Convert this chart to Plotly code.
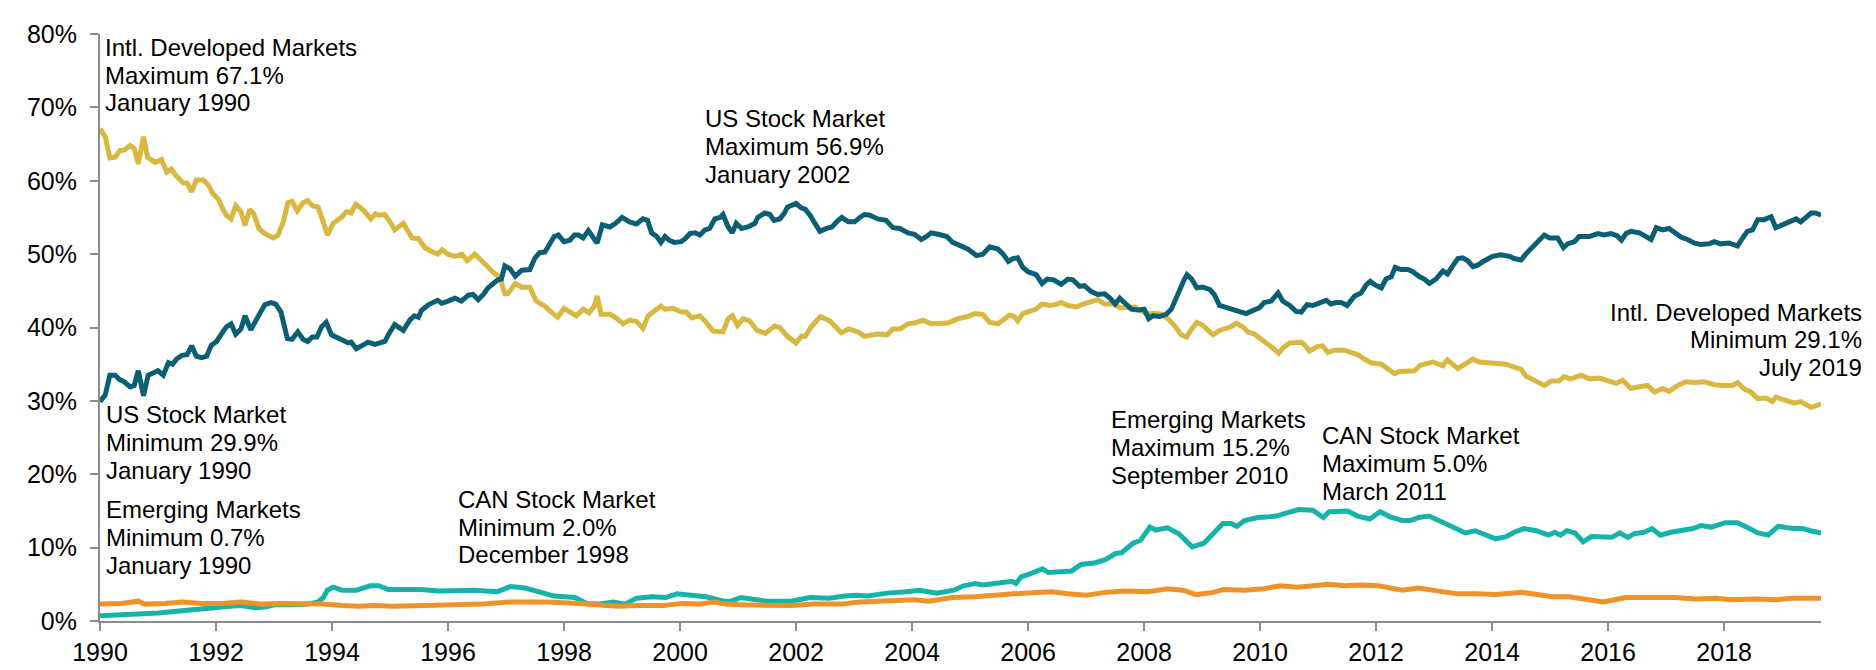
import plotly.graph_objects as go

# ---------------- data ----------------
us_x = [1990.00,1990.09,1990.17,1990.26,1990.34,1990.42,1990.52,1990.59,1990.66,1990.75,1990.83,1990.95,1991.00,1991.09,1991.18,1991.25,1991.32,1991.41,1991.50,1991.58,1991.66,1991.75,1991.84,1991.92,1992.01,1992.10,1992.18,1992.26,1992.34,1992.43,1992.50,1992.60,1992.67,1992.76,1992.84,1992.95,1993.03,1993.12,1993.23,1993.31,1993.41,1993.50,1993.58,1993.66,1993.74,1993.82,1993.90,1993.99,1994.13,1994.19,1994.28,1994.33,1994.42,1994.51,1994.62,1994.74,1994.82,1994.91,1995.00,1995.08,1995.23,1995.34,1995.42,1995.49,1995.54,1995.66,1995.82,1995.89,1996.00,1996.12,1996.23,1996.35,1996.43,1996.52,1996.61,1996.69,1996.78,1996.86,1996.92,1996.98,1997.07,1997.16,1997.27,1997.41,1997.50,1997.58,1997.67,1997.74,1997.83,1997.90,1998.00,1998.10,1998.18,1998.25,1998.33,1998.42,1998.50,1998.57,1998.66,1998.79,1998.89,1999.00,1999.13,1999.25,1999.36,1999.44,1999.51,1999.60,1999.67,1999.74,1999.81,1999.90,2000.02,2000.09,2000.17,2000.26,2000.34,2000.43,2000.51,2000.60,2000.69,2000.74,2000.83,2000.90,2000.97,2001.06,2001.17,2001.29,2001.34,2001.46,2001.55,2001.62,2001.72,2001.80,2001.85,2001.94,2002.00,2002.09,2002.16,2002.24,2002.32,2002.41,2002.53,2002.62,2002.70,2002.79,2002.90,2003.01,2003.10,2003.18,2003.27,2003.41,2003.55,2003.67,2003.79,2003.93,2004.04,2004.16,2004.25,2004.33,2004.45,2004.60,2004.70,2004.85,2004.96,2005.11,2005.22,2005.34,2005.48,2005.57,2005.66,2005.74,2005.82,2005.91,2006.00,2006.14,2006.24,2006.33,2006.44,2006.57,2006.69,2006.77,2006.89,2006.97,2007.09,2007.20,2007.32,2007.41,2007.50,2007.58,2007.66,2007.78,2007.89,2008.00,2008.08,2008.15,2008.27,2008.38,2008.47,2008.58,2008.69,2008.74,2008.82,2008.91,2009.01,2009.13,2009.21,2009.30,2009.39,2009.50,2009.62,2009.76,2009.87,2009.99,2010.07,2010.19,2010.31,2010.39,2010.51,2010.62,2010.71,2010.81,2010.91,2011.02,2011.14,2011.22,2011.31,2011.40,2011.50,2011.63,2011.74,2011.83,2011.90,2011.98,2012.09,2012.17,2012.26,2012.33,2012.43,2012.55,2012.63,2012.75,2012.83,2012.92,2013.03,2013.15,2013.23,2013.32,2013.41,2013.49,2013.58,2013.67,2013.75,2013.87,2014.01,2014.15,2014.30,2014.38,2014.50,2014.58,2014.70,2014.81,2014.90,2014.99,2015.13,2015.23,2015.30,2015.42,2015.50,2015.68,2015.82,2015.93,2016.05,2016.15,2016.23,2016.31,2016.39,2016.54,2016.65,2016.74,2016.83,2016.94,2017.05,2017.14,2017.26,2017.37,2017.49,2017.60,2017.74,2017.83,2017.94,2018.09,2018.23,2018.32,2018.40,2018.49,2018.58,2018.69,2018.81,2018.89,2019.01,2019.12,2019.24,2019.32,2019.41,2019.50,2019.58,2019.67]
us_y = [29.9,30.8,33.5,33.5,32.9,32.6,31.9,32.1,34.1,30.7,33.5,33.8,34.1,33.5,35.2,35.0,35.7,36.2,36.3,37.5,36.1,35.9,36.1,37.6,38.1,39.2,40.1,40.5,39.1,39.8,41.6,39.7,40.7,42.3,43.1,43.4,43.2,42.1,38.5,38.4,39.4,38.4,38.1,38.7,38.7,40.1,40.7,39.0,38.5,38.1,37.9,38.0,37.1,37.5,38.0,37.7,37.9,38.1,39.4,40.4,39.6,41.0,41.6,41.4,42.3,43.1,43.7,43.3,43.6,44.0,43.6,44.4,44.5,43.8,44.5,45.4,46.0,46.5,46.6,48.4,48.0,47.0,47.8,47.9,49.5,50.2,50.3,51.1,52.4,52.6,51.7,51.9,52.6,52.6,52.2,53.2,52.4,51.5,54.0,53.7,54.2,55.0,54.4,54.1,54.8,54.6,52.9,52.4,51.6,52.4,51.9,51.6,51.7,52.1,52.8,52.9,52.6,53.3,53.5,54.8,55.0,55.4,53.7,52.9,54.2,53.5,53.7,54.2,55.0,55.6,55.4,54.6,54.8,55.6,56.4,56.6,56.9,56.3,56.1,55.3,54.4,53.1,53.5,53.7,54.4,55.0,54.4,54.4,55.0,55.4,55.3,54.8,54.6,53.6,53.5,52.9,52.7,52.0,52.4,52.9,52.7,52.4,51.6,51.0,50.7,49.8,50.0,51.0,50.7,50.0,49.0,49.4,49.5,48.2,47.6,47.2,46.0,46.6,46.5,45.9,46.6,46.5,45.6,45.7,44.9,44.5,44.6,44.0,43.2,44.0,43.4,42.5,42.4,42.5,41.2,41.6,41.5,41.8,42.5,44.7,46.5,47.2,46.6,45.4,45.5,45.2,44.5,43.0,42.8,42.4,42.3,41.9,42.3,42.7,43.4,43.6,44.7,43.6,43.0,42.2,42.1,43.1,43.0,43.4,43.7,43.2,43.4,43.4,43.0,44.3,44.7,45.8,46.3,45.8,45.4,46.6,46.9,48.2,47.9,47.9,47.6,46.9,46.6,46.0,46.6,47.7,47.3,48.4,49.4,49.5,49.1,48.3,48.5,49.1,49.7,49.9,49.7,49.4,49.2,50.0,51.0,52.0,52.6,52.2,52.2,50.9,51.4,51.7,52.4,52.4,52.8,52.6,52.8,52.5,51.9,52.8,53.1,52.9,52.5,52.0,53.6,53.3,53.5,52.9,52.3,52.0,51.5,51.3,51.4,51.7,51.4,51.5,51.1,52.2,53.1,53.3,54.7,54.7,55.1,53.6,54.0,54.4,54.8,54.4,55.0,55.6,55.6,55.3]

intl_x = [1990.00,1990.09,1990.17,1990.26,1990.34,1990.42,1990.52,1990.59,1990.66,1990.75,1990.82,1990.95,1991.06,1991.15,1991.23,1991.32,1991.44,1991.50,1991.58,1991.66,1991.78,1991.87,1991.95,1992.04,1992.12,1992.18,1992.26,1992.34,1992.43,1992.50,1992.58,1992.65,1992.74,1992.84,1992.99,1993.07,1993.16,1993.24,1993.31,1993.40,1993.50,1993.58,1993.66,1993.76,1993.84,1993.92,1994.02,1994.16,1994.25,1994.33,1994.41,1994.54,1994.67,1994.75,1994.80,1994.91,1995.00,1995.08,1995.23,1995.38,1995.49,1995.60,1995.71,1995.82,1995.90,1996.00,1996.12,1996.24,1996.33,1996.46,1996.58,1996.69,1996.81,1996.89,1996.98,1997.03,1997.16,1997.27,1997.41,1997.52,1997.67,1997.78,1997.89,1998.00,1998.10,1998.21,1998.33,1998.43,1998.52,1998.57,1998.64,1998.79,1998.90,1999.02,1999.13,1999.25,1999.36,1999.45,1999.55,1999.67,1999.74,1999.88,2000.02,2000.11,2000.20,2000.34,2000.43,2000.57,2000.74,2000.83,2000.90,2000.99,2001.09,2001.20,2001.33,2001.47,2001.63,2001.72,2001.85,2002.00,2002.09,2002.16,2002.26,2002.42,2002.58,2002.78,2002.91,2003.07,2003.18,2003.41,2003.57,2003.67,2003.79,2003.93,2004.04,2004.19,2004.33,2004.62,2004.79,2004.96,2005.08,2005.22,2005.34,2005.48,2005.60,2005.68,2005.76,2005.82,2005.91,2006.05,2006.14,2006.24,2006.37,2006.46,2006.57,2006.69,2006.83,2006.95,2007.12,2007.20,2007.32,2007.41,2007.49,2007.58,2007.72,2007.84,2007.95,2008.06,2008.18,2008.30,2008.41,2008.52,2008.64,2008.73,2008.81,2008.91,2009.01,2009.10,2009.19,2009.30,2009.42,2009.50,2009.59,2009.70,2009.79,2009.90,2010.02,2010.13,2010.22,2010.32,2010.39,2010.51,2010.71,2010.76,2010.85,2010.99,2011.08,2011.17,2011.28,2011.45,2011.57,2011.68,2011.80,2011.91,2012.09,2012.20,2012.32,2012.40,2012.52,2012.66,2012.77,2012.98,2013.15,2013.23,2013.41,2013.55,2013.67,2013.78,2013.92,2014.07,2014.24,2014.38,2014.50,2014.58,2014.73,2014.90,2015.02,2015.16,2015.24,2015.36,2015.53,2015.68,2015.85,2015.99,2016.14,2016.25,2016.39,2016.51,2016.68,2016.80,2016.94,2017.05,2017.20,2017.34,2017.49,2017.66,2017.83,2018.00,2018.15,2018.23,2018.35,2018.46,2018.58,2018.72,2018.83,2018.89,2019.04,2019.21,2019.32,2019.44,2019.50,2019.67]
intl_y = [67.1,66.0,63.1,63.2,64.1,64.2,64.8,64.4,62.3,66.0,63.2,62.5,62.9,61.2,61.6,60.6,59.7,59.7,58.5,60.1,60.1,59.4,58.2,57.5,56.1,55.3,54.8,56.6,55.8,53.9,56.1,55.5,53.5,52.8,52.2,52.6,54.4,57.0,57.2,55.9,57.0,57.3,56.6,56.4,54.6,52.6,54.2,55.0,55.8,55.6,56.8,56.0,54.8,55.5,55.3,55.4,54.4,53.3,54.2,52.2,52.1,50.9,50.4,50.0,50.6,50.0,49.7,50.0,49.1,50.0,49.1,48.2,47.3,46.9,44.6,44.6,46.0,45.5,45.5,43.6,42.9,42.1,41.4,42.6,42.2,41.6,42.5,42.0,42.9,44.3,41.8,41.8,41.3,40.5,41.0,40.8,39.9,41.6,42.2,42.9,42.5,42.6,42.1,42.1,41.3,41.6,40.9,39.5,39.4,41.2,41.6,40.3,41.2,40.9,39.6,39.2,40.2,40.0,38.8,37.9,38.8,38.8,40.1,41.5,40.9,39.3,39.8,39.4,38.8,39.1,39.0,39.8,39.8,40.5,40.6,41.0,40.5,40.6,41.2,41.5,41.9,41.8,40.7,40.5,41.2,41.7,41.5,40.9,41.9,42.2,42.5,43.2,43.0,43.1,43.4,43.0,42.8,43.2,43.7,43.8,43.2,43.2,43.2,42.7,42.8,42.8,42.2,41.9,41.9,41.8,41.2,40.3,39.0,38.7,39.7,40.7,40.3,39.7,39.0,39.6,39.9,40.1,40.6,40.1,39.4,39.1,38.4,37.8,37.2,36.5,37.2,37.9,38.0,37.7,36.8,37.4,37.5,36.6,36.9,36.9,36.6,36.3,35.7,35.2,35.0,34.4,33.7,34.0,34.0,34.1,34.9,35.3,34.8,35.6,34.4,35.0,35.7,35.3,35.2,35.2,35.0,34.6,34.3,33.4,32.7,32.1,32.7,32.7,33.3,33.0,33.5,33.0,33.1,32.8,32.4,32.8,31.7,31.9,32.1,31.2,31.7,31.3,32.1,32.6,32.5,32.6,32.2,32.1,32.1,32.5,31.6,31.2,30.3,30.4,29.9,30.5,30.2,29.7,29.9,29.3,29.1,29.6]

em_x = [1990.00,1990.43,1990.83,1991.01,1991.41,1991.81,1992.04,1992.24,1992.44,1992.67,1992.84,1993.01,1993.30,1993.59,1993.76,1993.85,1993.92,1994.02,1994.17,1994.42,1994.66,1994.80,1994.97,1995.31,1995.54,1995.83,1996.12,1996.46,1996.85,1997.08,1997.33,1997.60,1997.83,1998.19,1998.39,1998.59,1998.85,1999.05,1999.25,1999.52,1999.75,1999.95,2000.28,2000.45,2000.75,2000.88,2001.05,2001.25,2001.51,2001.71,2001.91,2002.24,2002.57,2002.84,2003.04,2003.23,2003.57,2003.90,2004.13,2004.43,2004.72,2004.89,2005.09,2005.22,2005.55,2005.72,2005.79,2005.88,2006.02,2006.15,2006.25,2006.35,2006.75,2006.91,2007.14,2007.34,2007.51,2007.61,2007.81,2007.94,2008.10,2008.20,2008.40,2008.60,2008.83,2009.03,2009.20,2009.36,2009.50,2009.60,2009.73,2009.96,2010.16,2010.28,2010.49,2010.67,2010.91,2011.09,2011.19,2011.51,2011.68,2011.89,2012.07,2012.24,2012.45,2012.59,2012.73,2012.91,2013.08,2013.29,2013.54,2013.71,2013.89,2014.06,2014.24,2014.38,2014.55,2014.76,2014.97,2015.08,2015.18,2015.29,2015.43,2015.57,2015.71,2015.88,2016.06,2016.20,2016.34,2016.45,2016.62,2016.76,2016.90,2017.08,2017.32,2017.46,2017.60,2017.78,2018.02,2018.23,2018.41,2018.58,2018.76,2018.93,2019.18,2019.35,2019.49,2019.67]
em_y = [0.7,0.8,0.9,1.1,1.4,1.7,2.0,2.0,2.1,1.8,1.9,2.2,2.2,2.3,2.6,3.2,4.2,4.6,4.2,4.2,4.8,4.8,4.3,4.4,4.3,4.1,4.2,4.2,4.0,4.7,4.5,4.0,3.4,3.2,2.4,2.3,2.6,2.3,3.1,3.3,3.2,3.7,3.4,3.3,2.7,2.7,3.2,3.0,2.7,2.7,2.7,3.2,3.1,3.4,3.5,3.4,3.8,4.0,4.2,3.8,4.2,4.8,5.1,4.9,5.2,5.4,5.1,6.0,6.4,6.7,7.1,6.6,6.8,7.7,7.9,8.4,9.2,9.3,10.6,11.0,12.8,12.4,12.7,11.9,10.1,10.6,11.9,13.3,13.3,12.9,13.7,14.1,14.2,14.3,14.8,15.2,15.1,14.1,14.9,15.0,14.3,13.9,14.9,14.2,13.7,13.7,14.1,14.3,13.7,13.0,12.0,12.3,11.8,11.2,11.5,12.1,12.6,12.3,11.7,12.1,11.7,12.3,12.0,10.8,11.5,11.5,11.4,12.0,11.4,11.9,12.1,12.6,11.7,12.1,12.4,12.6,13.0,12.8,13.4,13.4,12.7,12.0,11.7,12.9,12.6,12.6,12.3,12.0]

can_x = [1990.00,1990.37,1990.66,1990.77,1991.12,1991.41,1991.75,1992.10,1992.44,1992.79,1993.13,1993.48,1993.83,1994.17,1994.46,1994.75,1995.03,1995.61,1996.18,1996.58,1997.04,1997.73,1998.26,1998.66,1998.92,1999.30,1999.72,2000.05,2000.32,2000.58,2000.78,2001.05,2001.51,2001.91,2002.31,2002.77,2003.10,2003.50,2004.03,2004.29,2004.69,2005.09,2005.35,2005.75,2006.15,2006.41,2006.68,2007.01,2007.34,2007.67,2008.07,2008.40,2008.67,2008.90,2009.20,2009.36,2009.73,2010.07,2010.35,2010.63,2010.91,2011.17,2011.47,2011.75,2012.03,2012.45,2012.73,2013.01,2013.40,2013.71,2014.06,2014.52,2014.76,2015.04,2015.32,2015.60,2015.92,2016.30,2016.80,2017.15,2017.50,2017.85,2018.13,2018.55,2018.90,2019.18,2019.67]
can_y = [2.3,2.4,2.7,2.3,2.4,2.6,2.4,2.4,2.6,2.3,2.4,2.4,2.3,2.1,2.0,2.1,2.0,2.1,2.2,2.3,2.6,2.6,2.4,2.1,2.0,2.1,2.1,2.4,2.3,2.6,2.3,2.2,2.2,2.1,2.3,2.3,2.6,2.7,2.9,2.7,3.2,3.3,3.4,3.7,3.9,4.0,3.7,3.5,3.9,4.1,4.0,4.4,4.2,3.6,3.9,4.3,4.2,4.4,4.8,4.6,4.8,5.0,4.8,4.9,4.8,4.2,4.5,4.2,3.7,3.7,3.6,3.9,3.6,3.3,3.3,3.0,2.6,3.2,3.2,3.2,3.0,3.1,2.9,3.0,2.9,3.1,3.1]

year_ticks = list(range(1990, 2019, 2))
pct_ticks = list(range(0, 81, 10))

# annotation blocks: (x, y of first line, x anchor, x reference, lines)
labels = [
    (1990.06, 78.2, "left", "x", ["Intl. Developed Markets", "Maximum 67.1%", "January 1990"]),
    (2000.39, 68.5, "left", "x", ["US Stock Market", "Maximum 56.9%", "January 2002"]),
    (1.025, 42.1, "right", "paper", ["Intl. Developed Markets", "Minimum 29.1%", "July 2019"]),
    (1990.07, 28.1, "left", "x", ["US Stock Market", "Minimum 29.9%", "January 1990"]),
    (1990.07, 15.2, "left", "x", ["Emerging Markets", "Minimum 0.7%", "January 1990"]),
    (1996.14, 16.6, "left", "x", ["CAN Stock Market", "Minimum 2.0%", "December 1998"]),
    (2007.39, 27.4, "left", "x", ["Emerging Markets", "Maximum 15.2%", "September 2010"]),
    (2011.03, 25.3, "left", "x", ["CAN Stock Market", "Maximum 5.0%", "March 2011"]),
]

# ---------------- figure ----------------
FONT = "Liberation Sans, Arial, sans-serif"
fig = go.Figure()
series = [
    ("Emerging Markets", em_x, em_y, "#16b3ab"),
    ("CAN Stock Market", can_x, can_y, "#f0922a"),
    ("Intl. Developed Markets", intl_x, intl_y, "#d9b841"),
    ("US Stock Market", us_x, us_y, "#0b5f75"),
]
for name, xs, ys, col in series:
    fig.add_trace(go.Scatter(x=xs, y=ys, mode="lines", name=name,
                             line=dict(color=col, width=5, shape="linear"),
                             hoverinfo="skip"))

LINE_GAP = 3.8  # percent units between text lines
for x0, y0, anchor, xref, lines in labels:
    for i, t in enumerate(lines):
        fig.add_annotation(x=x0, y=y0 - i * LINE_GAP, xref=xref, yref="y",
                           text=t, showarrow=False, xanchor=anchor, yanchor="middle",
                           font=dict(family=FONT, size=24, color="#000000"))

axis_col = "#8c8c8c"
fig.update_layout(
    width=1876, height=670,
    margin=dict(l=92, r=63, t=21, b=43),
    paper_bgcolor="white", plot_bgcolor="white",
    showlegend=False,
    font=dict(family=FONT, size=25, color="#000000"),
)
fig.update_xaxes(range=[1990, 2019.67], tickvals=year_ticks,
                 ticktext=[str(v) for v in year_ticks],
                 showgrid=False, zeroline=False, showline=True,
                 linecolor=axis_col, linewidth=2,
                 ticks="outside", ticklen=8, tickwidth=2, tickcolor=axis_col,
                 tickfont=dict(family=FONT, size=25, color="#000000"))
fig.update_yaxes(range=[0, 80], tickvals=pct_ticks,
                 ticktext=[f"{v}%" for v in pct_ticks],
                 showgrid=False, zeroline=False, showline=True,
                 linecolor=axis_col, linewidth=2,
                 ticks="outside", ticklen=8, tickwidth=2, tickcolor=axis_col,
                 ticklabelstandoff=8,
                 tickfont=dict(family=FONT, size=25, color="#000000"))

fig.write_html("out.html")
